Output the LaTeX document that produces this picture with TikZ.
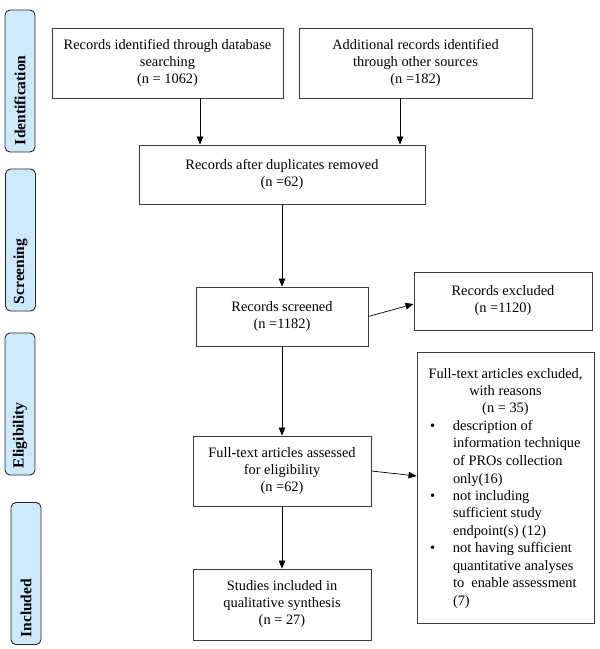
\documentclass[tikz,border=0pt]{standalone}
\usepackage{fontspec}
\setmainfont{Liberation Serif}
\usetikzlibrary{arrows.meta}
\definecolor{stagefill}{RGB}{204,234,252}
\definecolor{boxline}{RGB}{60,60,60}

\begin{document}
\begin{tikzpicture}[x=1pt, y=-1pt,
	box/.style={draw=boxline, line width=0.9pt, rectangle, align=center, inner sep=0pt, font=\fontsize{14.4}{17}\selectfont},
	stage/.style={draw=black!85, line width=0.9pt, fill=stagefill, rounded corners=5pt, rotate=90, minimum height=30pt, inner xsep=7pt, text width=128pt, align=left, font=\fontsize{15.5}{17}\selectfont\bfseries},
	flow/.style={line width=0.7pt, -{Triangle[length=8pt,width=6.5pt]}}]
				\useasboundingbox (0,0) rectangle (600,649);
				% phases
				\node[stage] (ident) at (20,81) {Identification};
				\node[stage] (screening) at (20.5,240) {Screening};
				\node[stage] (eligib) at (20,404) {Eligibility};
				\node[stage] (included) at (26,573.5) {Included};
				% boxes
				\node[box, minimum width=231pt, minimum height=70pt] (dbrec) at (167.5,63) {Records identified through database\\ searching\\ (n = 1062)};
				\node[box, minimum width=233pt, minimum height=70pt] (otherrec) at (415.5,63) {Additional records identified\\ through other sources\\ (n =182)};
				\node[box, minimum width=286pt, minimum height=59pt] (dedup) at (282,174.5) {Records after duplicates removed\\ (n =62)};
				\node[box, minimum width=172pt, minimum height=59pt] (screened) at (282,316.5) {Records screened\\ (n =1182)};
				\node[box, minimum width=178pt, minimum height=58pt] (recexcl) at (503,301) {Records excluded\\ (n =1120)};
				\node[box, minimum width=178pt, minimum height=70pt] (fulltext) at (282,471) {Full-text articles assessed\\ for eligibility\\ (n =62)};
				\node[box, minimum width=178pt, minimum height=71pt] (studies) at (282,604.5) {Studies included in\\ qualitative synthesis\\ (n = 27)};
				\node[box, minimum width=177pt, minimum height=271pt] (ftexcl) at (505.5,487.5) {\parbox[c][257pt][t]{163pt}{\fontsize{14.4}{17.5}\selectfont
					\vspace*{9pt}
					{\centering Full-text articles excluded,\\ with reasons\\ (n = 35)\par}
					\noindent\begin{tabular}[t]{@{\hspace{6pt}}p{23pt}@{}l@{}}
						\textbullet & description of\\
						& information technique\\
						& of PROs collection\\
						& only(16)\\
						\textbullet & not including\\
						& sufficient study\\
						& endpoint(s) (12)\\
						\textbullet & not having sufficient\\
						& quantitative analyses\\
						& to\ \ enable assessment\\
						& (7)
					\end{tabular}}};
				% arrows
				\draw[flow] ([xshift=32.5pt]dbrec.south) -- ([xshift=32.5pt]dbrec.south |- dedup.north);
				\draw[flow] ([xshift=-15.5pt]otherrec.south) -- ([xshift=-15.5pt]otherrec.south |- dedup.north);
				\draw[flow] (dedup.south) -- (screened.north);
				\draw[flow] (screened.east) -- ([yshift=-3pt]recexcl.west);
				\draw[flow] (screened.south) -- (fulltext.north);
				\draw[flow] (fulltext.east) -- ([yshift=11.5pt]ftexcl.west);
				\draw[flow] (fulltext.south) -- (studies.north);
			\end{tikzpicture}
\end{document}
